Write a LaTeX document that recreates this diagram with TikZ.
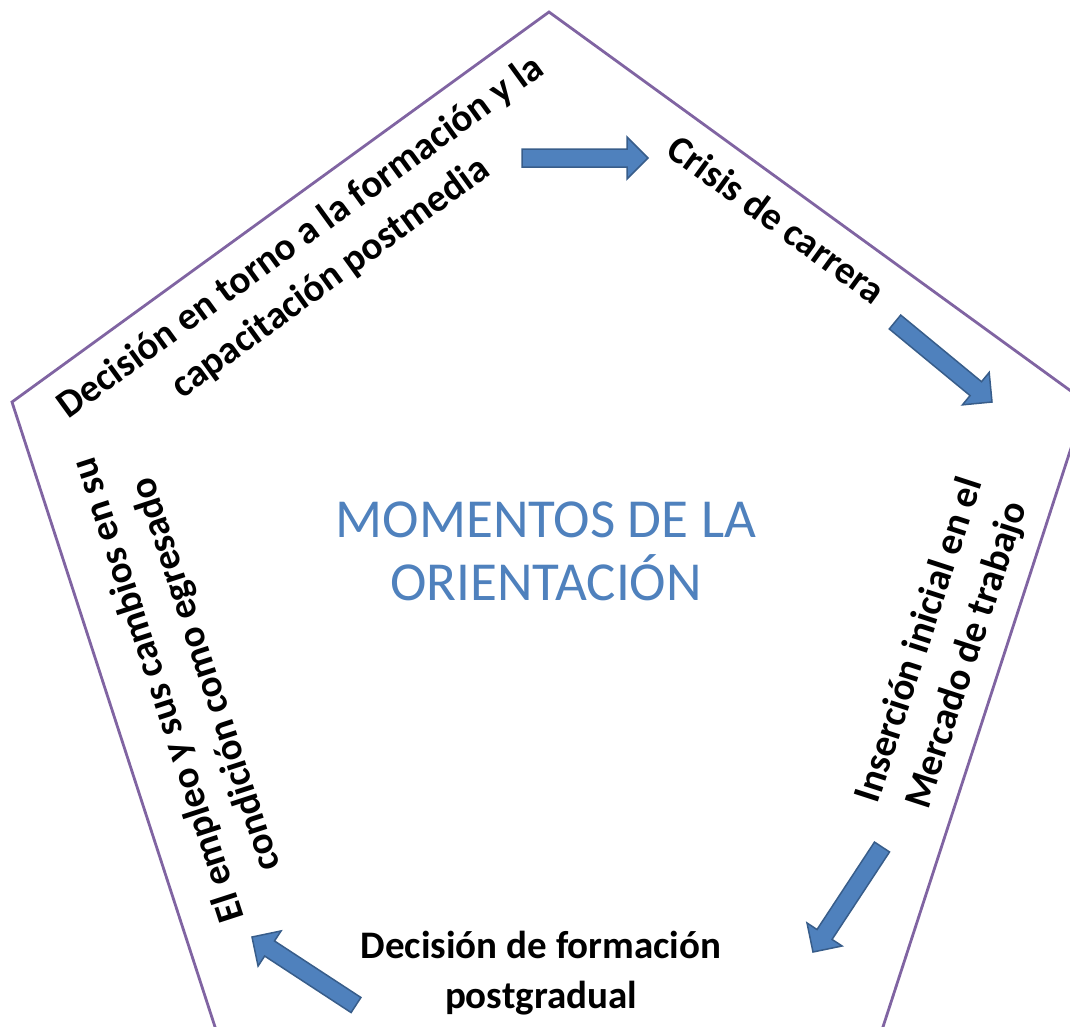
\documentclass[tikz,border=0pt]{standalone}
\usepackage{fontspec}
\setmainfont{Carlito}
\usepackage{xcolor}
\usepackage{tikz}
\usetikzlibrary{calc}

\definecolor{pentaline}{HTML}{8064A2}
\definecolor{arrowfill}{HTML}{4F81BD}
\definecolor{arrowline}{HTML}{385D8A}
\definecolor{titleblue}{HTML}{4F81BD}

\begin{document}
\begin{tikzpicture}[x=1pt, y=-1pt,
  edge/.style={draw=pentaline, line width=2.8pt, line join=miter},
  moment/.style={font=\fontsize{39}{50}\selectfont\bfseries, align=center, inner sep=0pt},
  blockarrow/.style={fill=arrowfill, draw=arrowline, line width=1.5pt, line join=miter}]
  \useasboundingbox (0,0) rectangle (1070,1026);
  \clip (0,0) rectangle (1070,1026);
  % pentagon frame
  \draw[edge] (549,12) -- (12,402) -- (217,1033) -- (881,1033) -- (1086,402) -- cycle;
  \node[font=\fontsize{55}{63}\selectfont, text=titleblue, align=center, inner sep=0pt] (title) at (546,551) {MOMENTOS DE LA\\ORIENTACIÓN};
  % the five moments
  \node[moment, rotate=36] (postmedia) at (316,258) {Decisión en torno a la formación y la\\capacitación postmedia};
  \node[moment, rotate=-36] (crisis) at (777,219) {Crisis de carrera};
  \node[moment, rotate=72] (insercion) at (944,648) {Inserción inicial en el\\Mercado de trabajo};
  \node[moment] (postgrado) at (541,973) {Decisión de formación\\postgradual};
  \node[moment, rotate=108] (empleo) at (183,682) {El empleo y sus cambios en su\\condición como egresado};
  % block arrows: tail and head
  \coordinate (a1t) at (522,158); \coordinate (a1h) at (648,158);
  \coordinate (a2t) at (895,322); \coordinate (a2h) at (992,402);
  \coordinate (a3t) at (882,847); \coordinate (a3h) at (813,952);
  \coordinate (a4t) at (356,1005); \coordinate (a4h) at (252,937);
  \foreach \t/\h in {a1t/a1h, a2t/a2h, a3t/a3h, a4t/a4h}{
    \coordinate (n) at ($(\h)!21pt!(\t)$);
    \draw[blockarrow] ($(\t)!9pt!90:(\h)$) -- ($(n)!9pt!90:(\h)$) -- ($(n)!21pt!90:(\h)$)
      -- (\h) -- ($(n)!21pt!-90:(\h)$) -- ($(n)!9pt!-90:(\h)$) -- ($(\t)!9pt!-90:(\h)$) -- cycle;
  }
\end{tikzpicture}
\end{document}
